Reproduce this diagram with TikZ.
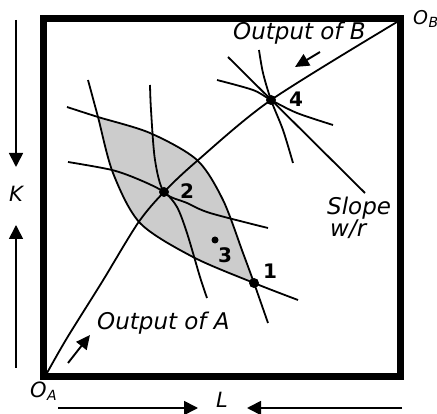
\documentclass[tikz,border=0pt]{standalone}
\usepackage{fontspec}
\setmainfont{DejaVu Sans}
\usetikzlibrary{arrows.meta}

\begin{document}
\begin{tikzpicture}[x=1pt,y=-1pt,
  curve/.style={line width=1.8pt},
  side arrow/.style={line width=1.7pt,-{Triangle[length=14pt,width=14pt]}},
  out arrow/.style={line width=1.9pt,-{Triangle[length=14pt,width=13pt]}},
  text label/.style={font=\fontsize{23}{26}\selectfont\itshape,inner sep=0pt},
  axis label/.style={font=\fontsize{21}{24}\selectfont\itshape,inner sep=0pt},
  point label/.style={font=\fontsize{20}{22}\selectfont\bfseries,inner sep=0pt},
  dot/.style={circle,fill,inner sep=0pt,minimum size=10pt}]

  \useasboundingbox (0,0) rectangle (437,414);

  % Edgeworth box
  \draw[line width=7pt] (43.5,19) rectangle (400.5,376.5);
  \coordinate (OA) at (47,373);
  \coordinate (OB) at (397,22);

  % Lens between the isoquants through 1
  \begin{scope}
    \clip plot[smooth] coordinates {(67,107) (98,117) (150,133) (197,160) (223,200) (243,253) (254,283) (268,323)}
      -- (268,414) -- (0,414) -- (0,107) -- cycle;
    \fill[black!20] plot[smooth] coordinates {(88,80) (98,117) (113,173) (140,223) (193,257) (254,283) (298,300)}
      -- (437,300) -- (437,0) -- (88,0) -- cycle;
  \end{scope}

  % Points
  \coordinate (p1) at (254,283);
  \coordinate (p2) at (164,192);
  \coordinate (p3) at (215,240);
  \coordinate (p4) at (271,100);

  % Isoquants through 1
  \draw[curve] plot[smooth] coordinates {(67,107) (98,117) (150,133) (197,160) (223,200) (243,253) (p1) (268,323)};
  \draw[curve] plot[smooth] coordinates {(88,80) (98,117) (113,173) (140,223) (193,257) (p1) (298,300)};

  % Isoquants through 2
  \draw[curve] plot[smooth] coordinates {(68,162) (112,170) (140,180) (p2) (177,207) (187,233) (200,277) (207,298)};
  \draw[curve] plot[smooth] coordinates {(150,85) (151,110) (155,160) (p2) (187,203) (210,213) (268,228)};

  % Isoquants through 4
  \draw[curve] plot[smooth] coordinates {(217,80) (253,90) (p4) (297,113) (333,125)};
  \draw[curve] plot[smooth] coordinates {(259,50) (263,73) (p4) (283,130) (293,163)};

  % Price line
  \coordinate (wr1) at (228,57);
  \coordinate (wr2) at (365,193);
  \draw[curve] (wr1) -- (wr2);

  % Contract curve
  \draw[curve] plot[smooth] coordinates {(OA) (67,338) (102,282) (138,223) (p2) (197,161) (p4) (OB)};

  \node[dot] (d1) at (p1) {};
  \node[dot] (d2) at (p2) {};
  \node[dot,minimum size=7pt] (d3) at (p3) {};
  \node[dot] (d4) at (p4) {};

  \node[point label] (n1) at (270,271) {1};
  \node[point label] (n2) at (187,191) {2};
  \node[point label] (n3) at (225,255) {3};
  \node[point label] (n4) at (296,99) {4};

  % Labels
  \node[text label,anchor=base west] (outB) at (233,40) {Output of B};
  \node[text label,anchor=base west] (outA) at (97,330) {Output of A};
  \node[text label,anchor=base west] (slope) at (327,215) {Slope};
  \node[text label,anchor=base west] (wr) at (330,237) {w/r};
  \node[axis label] (K) at (16,194) {K};
  \node[axis label] (L) at (222,400) {L};
  \node[axis label,anchor=base west] (labOA) at (30,398) {O\kern0.5pt\raisebox{-3pt}{\fontsize{14}{14}\selectfont A}};
  \node[axis label,anchor=base west,font=\fontsize{19}{22}\selectfont\itshape] (labOB) at (413,25) {O\kern0.5pt\raisebox{-3pt}{\fontsize{14}{14}\selectfont B}};

  % Arrows
  \coordinate (kd1) at (16,20);   \coordinate (kd2) at (16,167);
  \coordinate (ku1) at (16,368);  \coordinate (ku2) at (16,225);
  \coordinate (lr1) at (58,408);  \coordinate (lr2) at (198,408);
  \coordinate (ll1) at (402,408); \coordinate (ll2) at (247,408);
  \coordinate (ab1) at (320,52);  \coordinate (ab2) at (295,67);
  \coordinate (aa1) at (68,363);  \coordinate (aa2) at (90,335);
  \draw[side arrow] (kd1) -- (kd2);
  \draw[side arrow] (ku1) -- (ku2);
  \draw[side arrow] (lr1) -- (lr2);
  \draw[side arrow] (ll1) -- (ll2);
  \draw[out arrow] (ab1) -- (ab2);
  \draw[out arrow] (aa1) -- (aa2);

\end{tikzpicture}
\end{document}
